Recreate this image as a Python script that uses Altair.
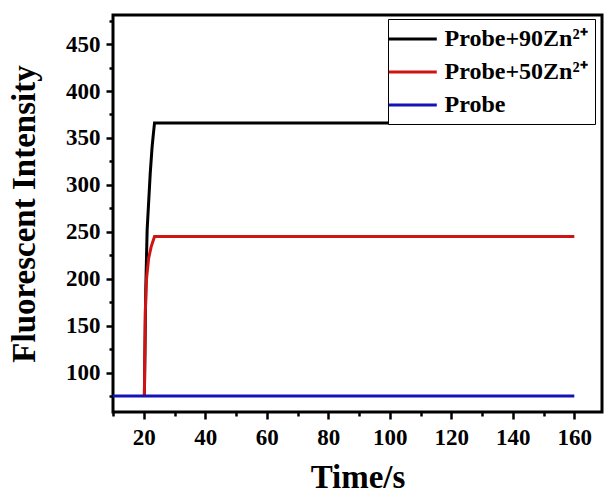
import altair as alt
import pandas as pd

# ---- data ----
t_black = [20.2, 20.5, 20.65, 21.1, 22.1, 22.7, 23.0, 23.5, 160]
v_black = [75, 150, 188, 252, 312, 340, 350, 366, 366]

t_red = [20.2, 20.5, 20.9, 21.6, 22.4, 23.5, 160]
v_red = [75, 165, 200, 222, 234, 245, 245]

t_blue = [10, 160]
v_blue = [75, 75]

series_names = ["Probe+90Zn²⁺", "Probe+50Zn²⁺", "Probe"]
series_colors = ["#000000", "#d01414", "#1414b4"]

x_ticks = list(range(10, 161, 10))
y_ticks = list(range(75, 476, 25))

rows = []
for name, ts, vs, k in [
    (series_names[0], t_black, v_black, 0),
    (series_names[1], t_red, v_red, 1),
    (series_names[2], t_blue, v_blue, 2),
]:
    for i, (t, v) in enumerate(zip(ts, vs)):
        rows.append({"Time": t, "Intensity": v, "Series": name, "ord": i, "k": k})
df = pd.DataFrame(rows)

FONT = "Times New Roman, Liberation Serif, serif"

chart = (
    alt.Chart(df)
    .mark_line(strokeWidth=3, clip=True)
    .encode(
        x=alt.X(
            "Time:Q",
            scale=alt.Scale(domain=[10, 169], nice=False, zero=False),
            axis=alt.Axis(
                title="Time/s",
                values=x_ticks,
                labelExpr="datum.value % 20 === 0 ? datum.label : ''",
                tickSize={"condition": {"test": "datum.value % 20 === 0", "value": 7}, "value": 4},
                labelPadding=7,
                titlePadding=12,
                labelFont=FONT,
            ),
        ),
        y=alt.Y(
            "Intensity:Q",
            scale=alt.Scale(domain=[58, 481], nice=False, zero=False),
            axis=alt.Axis(
                title="Fluorescent Intensity",
                values=y_ticks,
                labelExpr="datum.value % 50 === 0 ? datum.label : ''",
                tickSize={"condition": {"test": "datum.value % 50 === 0", "value": 7}, "value": 4},
                labelPadding=6,
                titlePadding=24,
                labelFont=FONT,
            ),
        ),
        color=alt.Color(
            "Series:N",
            scale=alt.Scale(domain=series_names, range=series_colors),
            legend=alt.Legend(
                title=None,
                orient="none",
                legendX=275,
                legendY=4,
                symbolType="M-1.6,0H2.4",
                symbolSize=576,
                symbolStrokeWidth=3,
                labelOffset=23,
                rowPadding=7,
                padding=6.5,
                strokeColor="black",
                fillColor="white",
                cornerRadius=0,
                labelFont=FONT,
            ),
        ),
        detail="k:N",
        order="ord:Q",
    )
    .properties(
        width=489,
        height=397,
        autosize=alt.AutoSizeParams(type="none"),
        padding={"left": 113, "top": 15, "right": 3, "bottom": 84},
    )
    .configure(background="white", font=FONT)
    .configure_view(stroke="black", strokeWidth=3)
    .configure_axis(
        grid=False,
        domain=False,
        tickWidth=2.5,
        tickColor="black",
        labelFont=FONT,
        labelFontSize=23,
        labelFontWeight="bold",
        labelColor="black",
        labelFlush=False,
        titleFont=FONT,
        titleFontSize=33,
        titleFontWeight="bold",
        titleColor="black",
    )
    .configure_legend(
        labelFont=FONT,
        labelFontSize=24,
        labelFontWeight="bold",
        labelColor="black",
    )
)

chart.save("out.html", embed_options={"renderer": "svg", "actions": False})
